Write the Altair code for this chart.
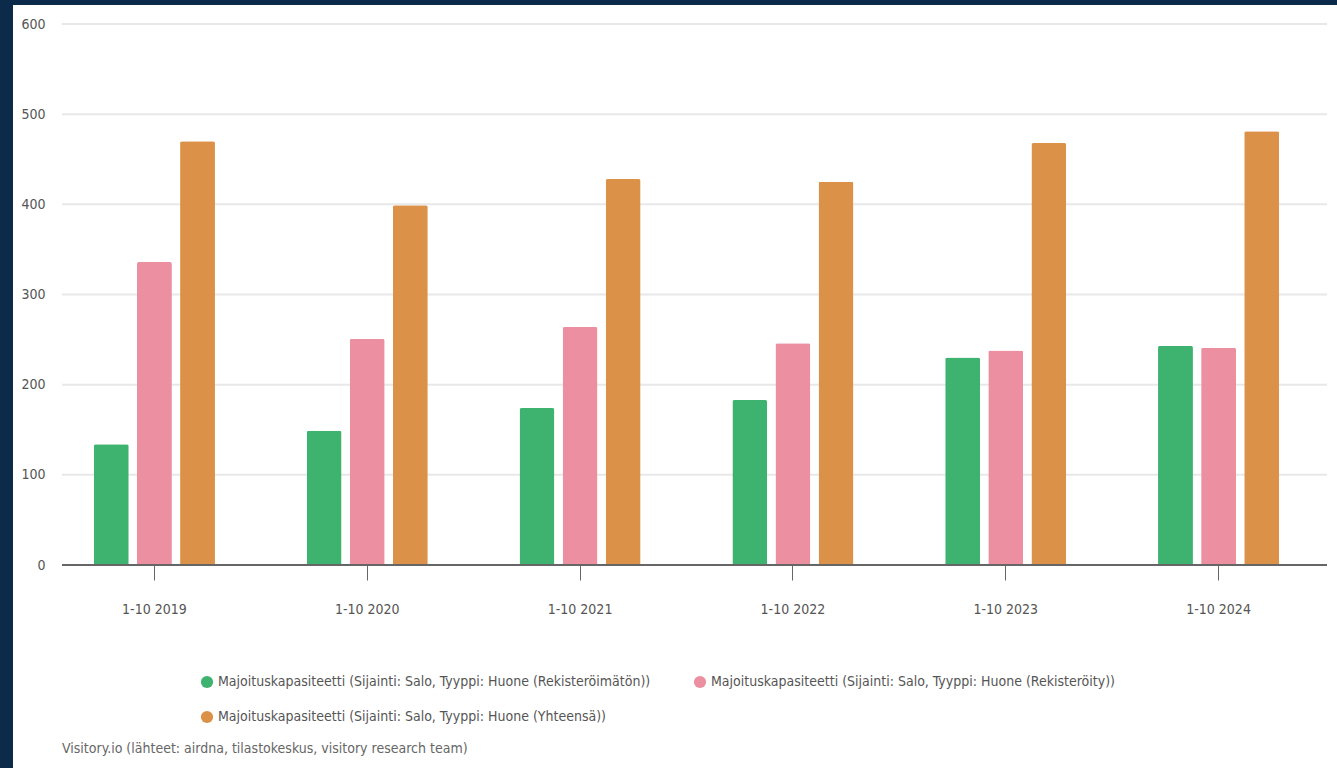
import altair as alt
import pandas as pd

periods = ["1-10 2019", "1-10 2020", "1-10 2021", "1-10 2022", "1-10 2023", "1-10 2024"]
series_names = [
    "Majoituskapasiteetti (Sijainti: Salo, Tyyppi: Huone (Rekisteröimätön))",
    "Majoituskapasiteetti (Sijainti: Salo, Tyyppi: Huone (Rekisteröity))",
    "Majoituskapasiteetti (Sijainti: Salo, Tyyppi: Huone (Yhteensä))",
]
unregistered = [134, 149, 174, 183, 230, 243]
registered = [336, 251, 264, 246, 238, 241]
total = [470, 399, 428, 425, 468, 481]
colors = ["#3db36f", "#ec8fa0", "#db9148"]
y_ticks = [0, 100, 200, 300, 400, 500, 600]
footer = "Visitory.io (lähteet: airdna, tilastokeskus, visitory research team)"

rows = []
for name, vals in zip(series_names, [unregistered, registered, total]):
    for p, v in zip(periods, vals):
        rows.append({"period": p, "series": name, "value": v})
df = pd.DataFrame(rows)

# legend fills column-major: order so that row 1 = green, pink; row 2 = orange
legend_order = [series_names[0], series_names[2], series_names[1]]
legend_colors = [colors[0], colors[2], colors[1]]

FONT = "Liberation Sans Narrow, DejaVu Sans Condensed, sans-serif"
W, H = 1277, 541
yscale = alt.Scale(domain=[0, 600], nice=False)

panel = alt.Chart(pd.DataFrame({"a": [0]})).mark_rect(color="white").encode(
    x=alt.value(-35), x2=alt.value(W + 20), y=alt.value(-19), y2=alt.value(H + 210)
)

grid = alt.Chart(pd.DataFrame({"v": y_ticks[1:]})).mark_rule(
    color="#e8e8e8", strokeWidth=2
).encode(y=alt.Y("v:Q", scale=yscale), x=alt.value(14), x2=alt.value(W + 2))

baseline = alt.Chart(pd.DataFrame({"v": y_ticks[:1]})).mark_rule(
    color="#666", strokeWidth=2
).encode(y=alt.Y("v:Q", scale=yscale), x=alt.value(14), x2=alt.value(W + 2))

bars = alt.Chart(df).mark_bar(cornerRadiusTopLeft=2, cornerRadiusTopRight=2).encode(
    x=alt.X("period:N", sort=periods, title=None,
            scale=alt.Scale(paddingInner=0.431, paddingOuter=0.2155),
            axis=alt.Axis(labelAngle=0, domain=False,
                          tickColor="#666", tickSize=15, tickWidth=1,
                          labelPadding=22, labelColor="#555", labelFontSize=14,
                          labelFont=FONT, grid=False, zindex=1)),
    xOffset=alt.XOffset("series:N", sort=series_names,
                        scale=alt.Scale(paddingInner=0.19, paddingOuter=0)),
    y=alt.Y("value:Q", title=None, scale=yscale,
            axis=alt.Axis(values=y_ticks, domain=False, grid=False,
                          ticks=False, labelPadding=3, labelColor="#555",
                          labelFontSize=14, labelFont=FONT, zindex=1)),
    color=alt.Color("series:N", title=None,
                    scale=alt.Scale(domain=legend_order, range=legend_colors),
                    legend=alt.Legend(orient="none", legendX=152, legendY=651,
                                      columns=2, columnPadding=42, rowPadding=21,
                                      symbolType="circle", symbolSize=150,
                                      symbolStrokeWidth=0, labelFontSize=14,
                                      labelFont=FONT, labelColor="#555",
                                      labelLimit=0)),
)

chart = alt.layer(panel, grid, bars, baseline).properties(
    width=W, height=H,
    background="#0c2b4b",
    padding={"left": 48, "top": 24, "right": 12, "bottom": 203},
    autosize=alt.AutoSizeParams(type="none"),
    title=alt.TitleParams(footer, orient="bottom", anchor="start", fontSize=14,
                          font=FONT, color="#666", fontWeight="normal", dx=49, offset=-33),
).configure_view(stroke=None)

chart.save("out.html", embed_options={"renderer": "svg", "actions": False})
